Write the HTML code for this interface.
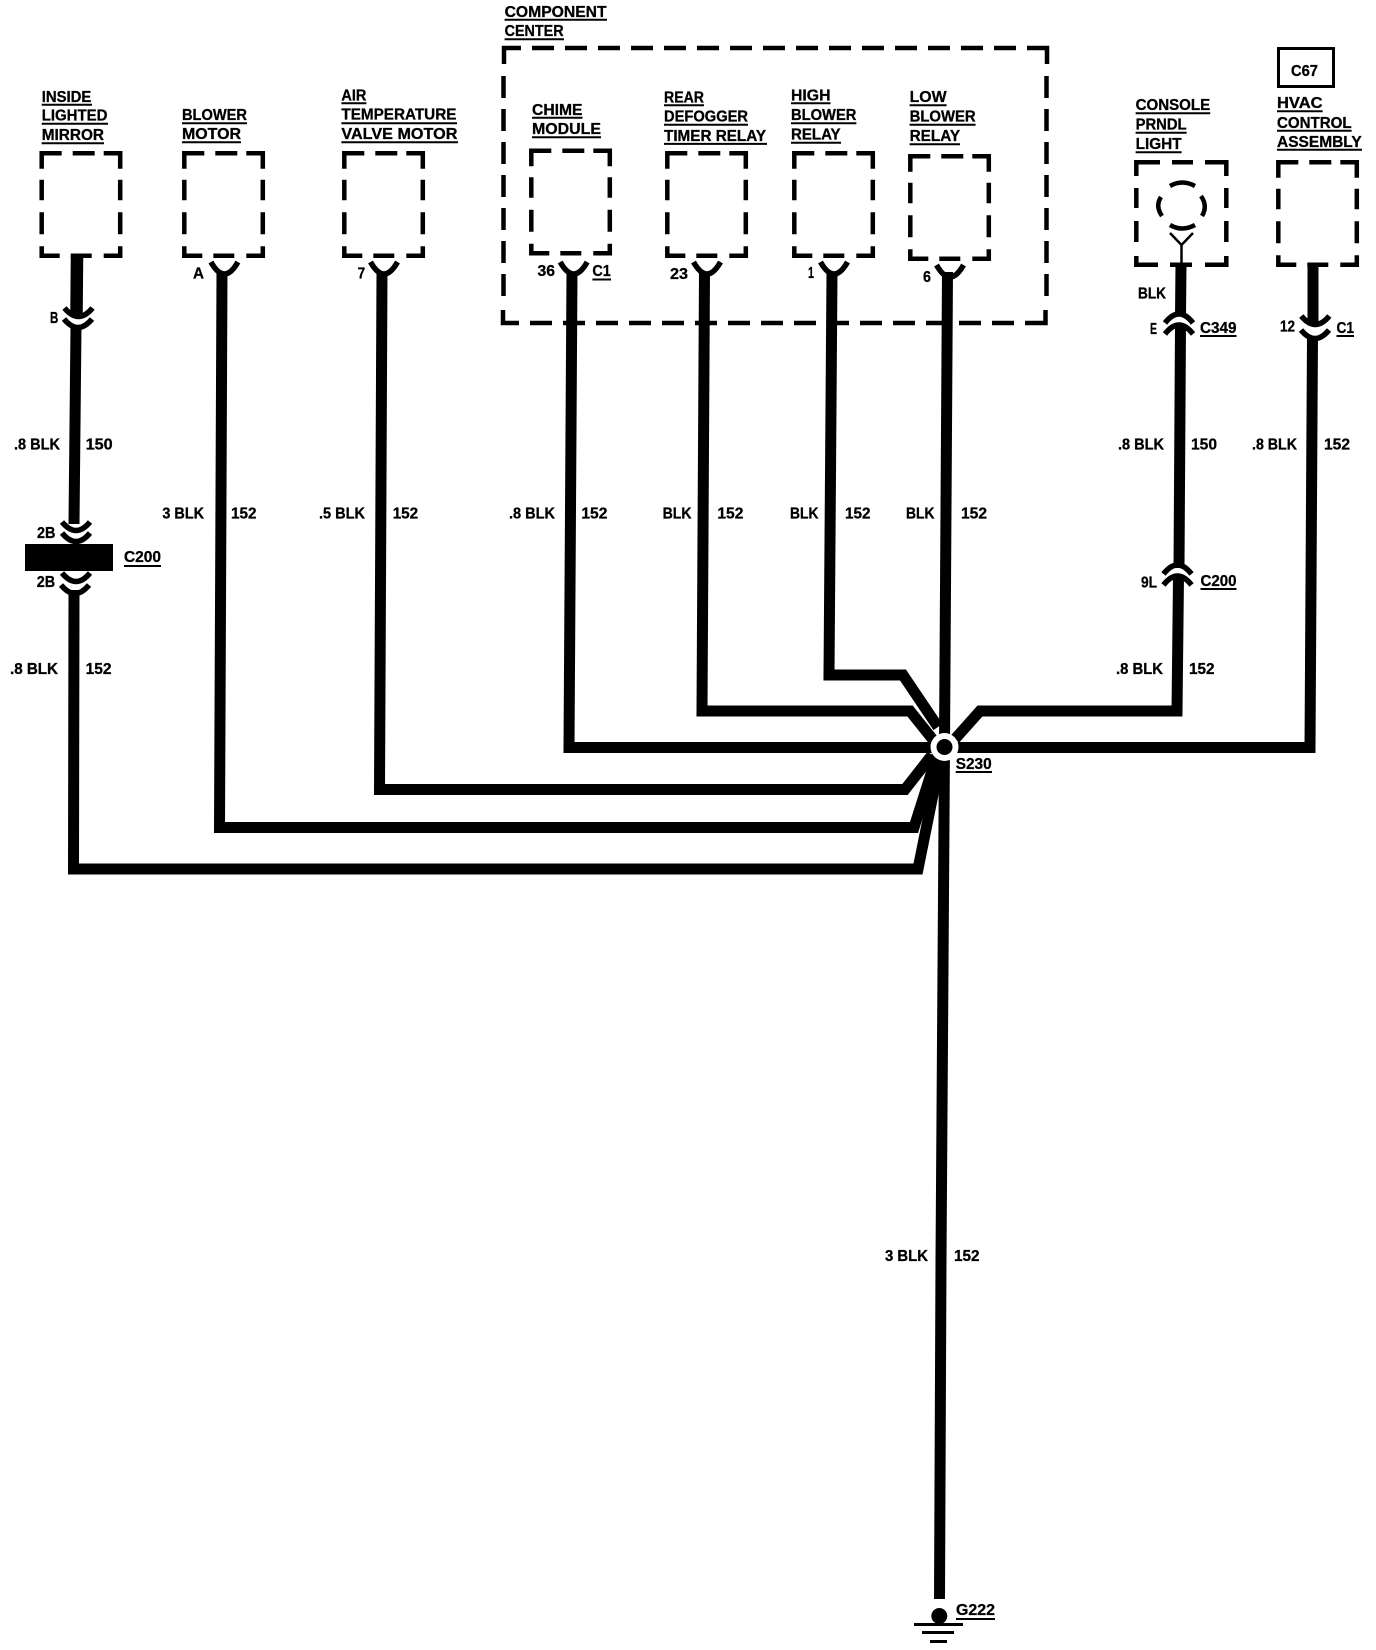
<!DOCTYPE html>
<html>
<head>
<meta charset="utf-8">
<style>
html,body{margin:0;padding:0;background:#fff}
svg{display:block}
text{font-family:"Liberation Sans",sans-serif;font-weight:bold;font-size:16px;fill:#000;stroke:#000;stroke-width:.3}
.w{fill:none;stroke:#000;stroke-width:11;stroke-linejoin:miter}
.d{fill:none;stroke:#000;stroke-width:4.5}
.c{fill:none;stroke:#000;stroke-width:5.5}
.u{stroke:#000;stroke-width:2}
</style>
</head>
<body>
<svg width="1376" height="1650" viewBox="0 0 1376 1650" xmlns="http://www.w3.org/2000/svg">
<defs>
<path id="b" class="d" d="M0,15.500V0H20M31,0H53M62,0H78.500V15.500M0,26.500V47M0,59V81M78.500,26.500V47M78.500,59V81M0,93V102.500H18M29,102.500H50M62,102.500H78.500V93"/>
<path id="y" class="c" d="M-13.500,0Q0,24 13.500,0"/>
<path id="a" class="c" d="M-14,0Q0,17 14,0"/>
<g id="nn"><path class="c" d="M-14,10Q0,-8 14,10"/><path class="c" d="M-14,21Q0,3 14,21"/></g>
</defs>

<!-- wires -->
<path class="w" style="stroke-width:12.500" d="M77,256L76.500,314"/>
<path class="w" d="M76,326L74,524"/>
<path class="w" d="M74,590L73.500,869H918L941,755"/>
<path class="w" d="M222,272L219.500,827.500H914L937,755"/>
<path class="w" d="M382,272L379.500,789.500H905L932,755"/>
<path class="w" d="M572,272L569,747.500H945"/>
<path class="w" d="M704.500,272L702,711H910L934,741"/>
<path class="w" d="M832,272L829,675H903L938,727"/>
<path class="w" d="M947.500,272L944.500,745"/>
<path class="w" d="M944.500,745L943.600,880L941,1260L939.500,1599"/>
<path class="w" d="M1181,264L1180.500,316"/>
<path class="w" d="M1180.500,326L1179,568"/>
<path class="w" d="M1178.500,577L1177,711H980L955,739"/>
<path class="w" d="M1313,265L1313,324"/>
<path class="w" d="M1312.500,337L1310,747.500H945"/>

<!-- node -->
<circle cx="944.500" cy="747" r="14" fill="#fff"/>
<circle cx="944.500" cy="747" r="8" fill="#000"/>

<!-- component center box -->
<path class="d" d="M521,48H504V64"/>
<path class="d" stroke-dasharray="22 11" d="M532,48H1030"/>
<path class="d" d="M1030,48H1047V64"/>
<path class="d" stroke-dasharray="22 11" d="M1046.500,76V298"/>
<path class="d" d="M1045.500,310V323H1025"/>
<path class="d" stroke-dasharray="22 11" d="M503.500,76V298"/>
<path class="d" d="M503,310V323H519"/>
<path class="d" stroke-dasharray="22 11" d="M530,323H1018"/>

<!-- dashed component boxes -->
<use href="#b" x="41.700" y="153.200"/>
<use href="#b" x="184.300" y="153.200"/>
<use href="#b" x="344.300" y="153.200"/>
<use href="#b" x="531.300" y="150.700"/>
<use href="#b" x="667.300" y="153.200"/>
<use href="#b" x="794.300" y="153.200"/>
<use href="#b" x="910.300" y="156.200"/>
<use href="#b" x="1278.300" y="162.200"/>
<path class="d" d="M1136.300,176V162.200H1160M1172,162.200H1193M1205,162.200H1226.300V176M1136.300,188V208M1136.300,221V242M1226.300,188V208M1226.300,221V242M1136.300,256V264.700H1158M1170,264.700H1192M1205,264.700H1226.300V256"/>

<!-- bulb -->
<path d="M1170,186Q1182,179 1195,186" fill="none" stroke="#000" stroke-width="4.500"/>
<path d="M1161,197Q1155,206 1162,216" fill="none" stroke="#000" stroke-width="4.500"/>
<path d="M1201,196Q1208,206 1202,216" fill="none" stroke="#000" stroke-width="4.500"/>
<path d="M1170,225Q1182,232 1195,225" fill="none" stroke="#000" stroke-width="4.500"/>
<path d="M1170,233L1181.500,245L1193,233M1181.500,245V264" fill="none" stroke="#000" stroke-width="2.500"/>

<!-- C67 -->
<rect x="1278.500" y="48.500" width="55" height="38" fill="#fff" stroke="#000" stroke-width="3"/>
<text x="1291" y="75.800" textLength="27" lengthAdjust="spacingAndGlyphs">C67</text>

<!-- connectors -->
<use href="#a" x="78.500" y="308"/>
<use href="#a" x="78" y="319"/>
<use href="#a" x="76" y="522"/>
<use href="#a" x="76" y="533"/>
<rect x="25" y="544" width="88" height="27"/>
<use href="#a" x="76" y="573"/>
<use href="#a" x="75" y="585"/>
<use href="#y" x="224.400" y="262"/>
<use href="#y" x="384" y="262"/>
<use href="#y" x="573.700" y="262"/>
<use href="#y" x="707" y="262"/>
<use href="#y" x="834" y="262"/>
<use href="#y" x="950" y="265"/>
<use href="#nn" x="1179" y="313"/>
<use href="#nn" x="1177.500" y="564"/>
<use href="#a" x="1315.300" y="316"/>
<use href="#a" x="1315" y="330"/>

<!-- ground -->
<circle cx="939.300" cy="1616" r="8"/>
<rect x="914" y="1623" width="49" height="3"/>
<rect x="922" y="1631" width="32" height="3"/>
<rect x="930" y="1640" width="17" height="3"/>

<!-- component titles -->
<g transform="translate(0,-0.800)">
<text x="41.700" y="102.600" textLength="49.600" lengthAdjust="spacingAndGlyphs">INSIDE</text><line class="u" x1="41.700" x2="92" y1="105.500" y2="105.500"/>
<text x="41.700" y="121.300" textLength="65.800" lengthAdjust="spacingAndGlyphs">LIGHTED</text><line class="u" x1="41.700" x2="108" y1="124.500" y2="124.500"/>
<text x="41.700" y="140.800" textLength="62.300" lengthAdjust="spacingAndGlyphs">MIRROR</text><line class="u" x1="41.700" x2="104" y1="144" y2="144"/>
<text x="182" y="121" textLength="65" lengthAdjust="spacingAndGlyphs">BLOWER</text><line class="u" x1="182" x2="247" y1="124" y2="124"/>
<text x="182" y="140" textLength="59" lengthAdjust="spacingAndGlyphs">MOTOR</text><line class="u" x1="182" x2="241" y1="143" y2="143"/>
<text x="341.400" y="101.400" textLength="25" lengthAdjust="spacingAndGlyphs">AIR</text><line class="u" x1="341.400" x2="366.400" y1="104" y2="104"/>
<text x="341.400" y="120.500" textLength="115" lengthAdjust="spacingAndGlyphs">TEMPERATURE</text><line class="u" x1="341.400" x2="457" y1="124" y2="124"/>
<text x="341.400" y="139.700" textLength="116" lengthAdjust="spacingAndGlyphs">VALVE MOTOR</text><line class="u" x1="341.400" x2="458" y1="143" y2="143"/>
<text x="504.600" y="17.600" textLength="102" lengthAdjust="spacingAndGlyphs">COMPONENT</text><line class="u" x1="504.600" x2="607" y1="20.500" y2="20.500"/>
<text x="504.600" y="37" textLength="59" lengthAdjust="spacingAndGlyphs">CENTER</text><line class="u" x1="504.600" x2="564" y1="40" y2="40"/>
<text x="532" y="115.600" textLength="50.500" lengthAdjust="spacingAndGlyphs">CHIME</text><line class="u" x1="532" x2="582.500" y1="118.600" y2="118.600"/>
<text x="532" y="135" textLength="69" lengthAdjust="spacingAndGlyphs">MODULE</text><line class="u" x1="532" x2="601" y1="138" y2="138"/>
<text x="664" y="103.300" textLength="40" lengthAdjust="spacingAndGlyphs">REAR</text><line class="u" x1="664" x2="704" y1="106" y2="106"/>
<text x="664" y="122.500" textLength="84" lengthAdjust="spacingAndGlyphs">DEFOGGER</text><line class="u" x1="664" x2="748" y1="125.500" y2="125.500"/>
<text x="664" y="141.600" textLength="102" lengthAdjust="spacingAndGlyphs">TIMER RELAY</text><line class="u" x1="664" x2="767" y1="144.700" y2="144.700"/>
<text x="791" y="101.400" textLength="39.500" lengthAdjust="spacingAndGlyphs">HIGH</text><line class="u" x1="791" x2="830.500" y1="104" y2="104"/>
<text x="791" y="121" textLength="65.400" lengthAdjust="spacingAndGlyphs">BLOWER</text><line class="u" x1="791" x2="856.400" y1="124" y2="124"/>
<text x="791" y="140.500" textLength="49.600" lengthAdjust="spacingAndGlyphs">RELAY</text><line class="u" x1="791" x2="841" y1="143.500" y2="143.500"/>
<text x="909.600" y="103" textLength="37" lengthAdjust="spacingAndGlyphs">LOW</text><line class="u" x1="909.600" x2="946.600" y1="106" y2="106"/>
<text x="909.600" y="122.500" textLength="66" lengthAdjust="spacingAndGlyphs">BLOWER</text><line class="u" x1="909.600" x2="975.600" y1="125.500" y2="125.500"/>
<text x="909.600" y="141.600" textLength="50.500" lengthAdjust="spacingAndGlyphs">RELAY</text><line class="u" x1="909.600" x2="960" y1="145" y2="145"/>
<text x="1135.600" y="111" textLength="74.600" lengthAdjust="spacingAndGlyphs">CONSOLE</text><line class="u" x1="1135.600" x2="1210.200" y1="114" y2="114"/>
<text x="1135.600" y="130.500" textLength="51" lengthAdjust="spacingAndGlyphs">PRNDL</text><line class="u" x1="1135.600" x2="1186.600" y1="133.600" y2="133.600"/>
<text x="1135.600" y="150" textLength="46" lengthAdjust="spacingAndGlyphs">LIGHT</text><line class="u" x1="1135.600" x2="1181.600" y1="153" y2="153"/>
<text x="1277" y="109" textLength="45.600" lengthAdjust="spacingAndGlyphs">HVAC</text><line class="u" x1="1277" x2="1322.600" y1="112" y2="112"/>
<text x="1277" y="128.600" textLength="74.600" lengthAdjust="spacingAndGlyphs">CONTROL</text><line class="u" x1="1277" x2="1351.600" y1="131.600" y2="131.600"/>
<text x="1277" y="147.700" textLength="84.700" lengthAdjust="spacingAndGlyphs">ASSEMBLY</text><line class="u" x1="1277" x2="1362" y1="150.500" y2="150.500"/>
</g>

<!-- wire labels -->
<text x="14" y="449.700" textLength="46" lengthAdjust="spacingAndGlyphs">.8 BLK</text>
<text x="85.600" y="449.700" textLength="27" lengthAdjust="spacingAndGlyphs">150</text>
<text x="1118" y="449.700" textLength="46" lengthAdjust="spacingAndGlyphs">.8 BLK</text>
<text x="1191" y="449.700" textLength="26" lengthAdjust="spacingAndGlyphs">150</text>
<text x="1252" y="449.700" textLength="45" lengthAdjust="spacingAndGlyphs">.8 BLK</text>
<text x="1324" y="449.700" textLength="26" lengthAdjust="spacingAndGlyphs">152</text>
<text x="162.400" y="518.300" textLength="41.700" lengthAdjust="spacingAndGlyphs">3 BLK</text>
<text x="231" y="518.300" textLength="25.500" lengthAdjust="spacingAndGlyphs">152</text>
<text x="319" y="518.300" textLength="46" lengthAdjust="spacingAndGlyphs">.5 BLK</text>
<text x="392.700" y="518.300" textLength="25.500" lengthAdjust="spacingAndGlyphs">152</text>
<text x="509" y="518.300" textLength="46" lengthAdjust="spacingAndGlyphs">.8 BLK</text>
<text x="581.400" y="518.300" textLength="26" lengthAdjust="spacingAndGlyphs">152</text>
<text x="662.600" y="518.300" textLength="29" lengthAdjust="spacingAndGlyphs">BLK</text>
<text x="717.400" y="518.300" textLength="26" lengthAdjust="spacingAndGlyphs">152</text>
<text x="790" y="518.300" textLength="28.500" lengthAdjust="spacingAndGlyphs">BLK</text>
<text x="845" y="518.300" textLength="25.500" lengthAdjust="spacingAndGlyphs">152</text>
<text x="906" y="518.300" textLength="28.500" lengthAdjust="spacingAndGlyphs">BLK</text>
<text x="961" y="518.300" textLength="26" lengthAdjust="spacingAndGlyphs">152</text>
<text x="10" y="674" textLength="48" lengthAdjust="spacingAndGlyphs">.8 BLK</text>
<text x="85.600" y="674" textLength="26" lengthAdjust="spacingAndGlyphs">152</text>
<text x="1116" y="674" textLength="47" lengthAdjust="spacingAndGlyphs">.8 BLK</text>
<text x="1189" y="674" textLength="25.500" lengthAdjust="spacingAndGlyphs">152</text>
<text x="885" y="1261" textLength="43" lengthAdjust="spacingAndGlyphs">3 BLK</text>
<text x="954" y="1261" textLength="25.500" lengthAdjust="spacingAndGlyphs">152</text>

<!-- connector labels -->
<text x="50" y="323" textLength="8.300" lengthAdjust="spacingAndGlyphs">B</text>
<text x="37" y="538" textLength="18.400" lengthAdjust="spacingAndGlyphs">2B</text>
<text x="36.700" y="587" textLength="18.400" lengthAdjust="spacingAndGlyphs">2B</text>
<text x="124" y="561.800" textLength="37" lengthAdjust="spacingAndGlyphs">C200</text><line class="u" x1="124" x2="161" y1="566" y2="566"/>
<text x="193" y="278.300" textLength="11" lengthAdjust="spacingAndGlyphs">A</text>
<text x="357.600" y="278.300" textLength="7.500" lengthAdjust="spacingAndGlyphs">7</text>
<text x="537.500" y="276" textLength="17.500" lengthAdjust="spacingAndGlyphs">36</text>
<text x="592.400" y="276" textLength="18.400" lengthAdjust="spacingAndGlyphs">C1</text><line class="u" x1="592.400" x2="611" y1="279.500" y2="279.500"/>
<text x="670" y="279" textLength="18" lengthAdjust="spacingAndGlyphs">23</text>
<text x="808" y="278" textLength="6" lengthAdjust="spacingAndGlyphs">1</text>
<text x="923" y="282" textLength="8" lengthAdjust="spacingAndGlyphs">6</text>
<text x="1138" y="298.300" textLength="28" lengthAdjust="spacingAndGlyphs">BLK</text>
<text x="1150" y="334" textLength="7" lengthAdjust="spacingAndGlyphs">E</text>
<text x="1200" y="333" textLength="36.500" lengthAdjust="spacingAndGlyphs">C349</text><line class="u" x1="1200" x2="1236.500" y1="336" y2="336"/>
<text x="1280" y="331.700" textLength="15" lengthAdjust="spacingAndGlyphs">12</text>
<text x="1336.500" y="333" textLength="17.500" lengthAdjust="spacingAndGlyphs">C1</text><line class="u" x1="1336.500" x2="1354" y1="336" y2="336"/>
<text x="1141" y="587.500" textLength="16" lengthAdjust="spacingAndGlyphs">9L</text>
<text x="1200.500" y="586" textLength="36" lengthAdjust="spacingAndGlyphs">C200</text><line class="u" x1="1200.500" x2="1236.500" y1="589" y2="589"/>
<text x="955.700" y="769" textLength="36" lengthAdjust="spacingAndGlyphs">S230</text><line class="u" x1="955.700" x2="992" y1="772" y2="772"/>
<text x="956" y="1615" textLength="39" lengthAdjust="spacingAndGlyphs">G222</text><line class="u" x1="956" x2="995" y1="1619" y2="1619"/>
</svg>
</body>
</html>
